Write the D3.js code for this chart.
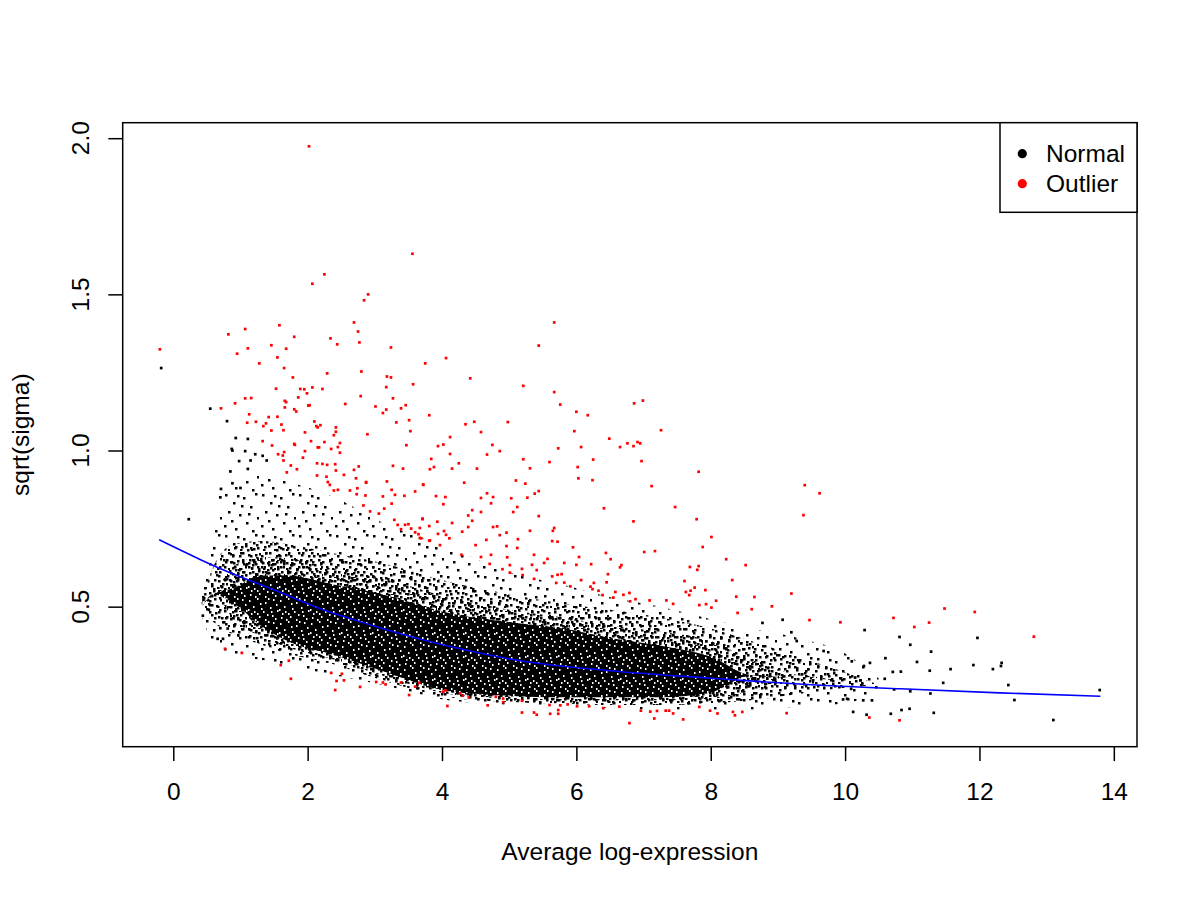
<!DOCTYPE html>
<html><head><meta charset="utf-8">
<script src="https://cdn.jsdelivr.net/npm/d3@7"></script>
<style>
body{margin:0;background:#fff}
svg{display:block}
text{font-family:"Liberation Sans",Arial,Helvetica,sans-serif;fill:#000}
</style>
</head><body>
<svg id="chart" width="1200" height="900"></svg>
<script>
// ---------------- DATA ----------------
const xTicks = [0, 2, 4, 6, 8, 10, 12, 14];
const yTicks = [0.5, 1.0, 1.5, 2.0];
const yTickLabels = ["0.5", "1.0", "1.5", "2.0"];
const legendLabels = ["Normal", "Outlier"];

// density envelope of the dense "Normal" cloud (too many points to list one by one)
const cloudX  = [0.42, 0.6, 0.9, 1.3, 1.7, 2.4, 3.1, 4.1, 5.0, 5.8, 6.5, 7.25, 8.0, 8.6, 9.3, 10.0, 10.5];
const outerHi = [0.53, 0.74, 0.90, 0.92, 0.90, 0.85, 0.77, 0.69, 0.61, 0.57, 0.53, 0.50, 0.46, 0.43, 0.40, 0.35, 0.27];
const outerLo = [0.47, 0.38, 0.34, 0.33, 0.31, 0.28, 0.25, 0.20, 0.185, 0.18, 0.175, 0.17, 0.17, 0.17, 0.18, 0.19, 0.23];
const midHi   = [0.51, 0.63, 0.70, 0.71, 0.70, 0.67, 0.64, 0.58, 0.54, 0.51, 0.49, 0.465, 0.43, 0.39, 0.34, 0.29, 0.25];
const midLo   = [0.49, 0.45, 0.41, 0.38, 0.35, 0.315, 0.265, 0.21, 0.195, 0.19, 0.185, 0.185, 0.19, 0.20, 0.22, 0.24, 0.25];
const denseHi = [0.50, 0.54, 0.63, 0.66, 0.655, 0.62, 0.59, 0.53, 0.49, 0.465, 0.44, 0.42, 0.39, 0.33, 0.28, 0.26, 0.25];
const denseLo = [0.50, 0.54, 0.46, 0.405, 0.37, 0.33, 0.28, 0.22, 0.205, 0.20, 0.20, 0.20, 0.205, 0.23, 0.28, 0.26, 0.25];
const coreHi  = [0.50, 0.54, 0.56, 0.60, 0.60, 0.57, 0.54, 0.48, 0.45, 0.43, 0.40, 0.375, 0.34, 0.28, 0.27, 0.26, 0.25];
const coreLo  = [0.50, 0.54, 0.51, 0.44, 0.39, 0.345, 0.295, 0.23, 0.215, 0.21, 0.21, 0.21, 0.225, 0.28, 0.27, 0.26, 0.25];

// individually visible "Normal" points (fringe)
const normalPts = [
 [-0.18,1.264],[0.55,1.134],[0.80,1.094],[0.93,1.040],[1.11,1.037],[0.88,1.000],[1.07,0.998],[0.23,0.78],
 [0.87,1.005],[0.98,0.966],[1.15,0.968],[1.11,0.941],[1.22,0.988],[1.33,0.983],[1.39,0.968],[0.85,0.933],
 [0.71,0.877],[0.70,0.85],[0.88,0.895],[1.0,0.88],
 [0.45,0.522],[0.44,0.471],[0.53,0.49],[0.66,0.397],[0.74,0.397],[0.70,0.431],[0.81,0.43],
 [9.07,0.458],[8.77,0.448],[9.28,0.39],[9.68,0.358],[10.1,0.325],[9.2,0.418],
 [10.29,0.425],[10.81,0.403],[10.97,0.378],[11.28,0.356],[11.97,0.40],[11.07,0.323],[10.83,0.292],[10.71,0.291],
 [11.26,0.295],[11.57,0.30],[11.91,0.313],[12.20,0.30],[12.33,0.32],[12.32,0.31],[11.46,0.256],[11.27,0.222],
 [12.43,0.249],[12.52,0.201],[13.79,0.233],[13.10,0.137],[11.32,0.16],[10.96,0.173],[10.84,0.169],[10.68,0.157],
 [10.32,0.154],[10.12,0.163],[10.59,0.269],[10.73,0.235],[10.97,0.229],[10.6,0.335],[10.37,0.32],[10.28,0.31],
 [10.15,0.273],[10.23,0.264],[10.4,0.2],[10.27,0.2],[10.09,0.237],[10.03,0.205],[9.97,0.203]
];

// "Outlier" points
const outlierPts = [
 [-0.20,1.324],
 [2.02,1.974],[3.56,1.630],[2.25,1.564],[2.07,1.534],[2.90,1.500],[2.84,1.481],[2.69,1.410],[2.75,1.381],[2.77,1.346],
 [3.24,1.330],[1.58,1.401],[1.07,1.389],[0.82,1.372],[1.80,1.364],[2.34,1.359],[2.44,1.340],[1.46,1.337],[1.11,1.327],
 [1.68,1.326],[0.95,1.310],[1.55,1.298],[1.28,1.279],[1.65,1.264],[2.29,1.247],[2.80,1.253],[1.78,1.234],[3.18,1.237],
 [3.24,1.234],[3.57,1.212],[3.17,1.203],[1.53,1.198],[1.89,1.197],[1.95,1.196],[2.07,1.202],[2.22,1.197],[1.86,1.170],
 [1.99,1.183],[1.07,1.167],[1.16,1.168],[2.79,1.174],[3.27,1.167],[0.92,1.151],[0.71,1.135],[1.66,1.159],[1.68,1.155],
 [1.66,1.138],[1.80,1.132],[1.83,1.125],[2.01,1.144],[2.03,1.145],[2.56,1.149],[3.01,1.141],[3.46,1.145],[3.39,1.135],
 [3.17,1.131],[3.12,1.120],[1.13,1.116],[1.42,1.107],[1.55,1.108],[1.10,1.089],[1.23,1.092],[1.38,1.087],[1.34,1.078],
 [1.61,1.083],[3.32,1.090],[3.51,1.097],[2.10,1.093],[2.13,1.078],[2.19,1.081],[2.15,1.074],[1.46,1.064],[1.64,1.065],
 [1.96,1.058],[2.42,1.074],[2.42,1.060],[2.39,1.049],[3.53,1.062],[2.89,1.052],[1.33,1.030],[1.47,1.016],[1.80,1.021],
 [1.81,1.018],[2.05,1.030],[2.25,1.027],[2.15,1.010],[2.17,1.010],[2.35,1.005],[2.48,1.024],[2.45,1.011],[3.47,1.017],
 [1.65,0.995],[1.96,0.998],[2.48,0.993],
 [5.67,1.410],[5.44,1.336],[4.06,1.296],[3.75,1.279],[4.42,1.231],[5.21,1.207],[5.67,1.187],[5.76,1.147],[6.86,1.151],
 [6.99,1.160],[6.00,1.124],[6.17,1.113],[3.81,1.113],[4.35,1.084],[4.48,1.092],[4.98,1.091],[4.58,1.059],[5.97,1.062],
 [7.26,1.065],[4.12,1.043],[6.49,1.038],[3.94,1.014],[4.02,1.019],[4.75,1.018],[5.73,1.007],[6.07,1.011],[6.65,1.011],
 [6.76,1.023],[6.85,1.014],[6.91,1.027],[6.95,1.023],[4.86,0.998],
 [4.12,0.989],[4.67,0.987],[5.21,0.972],[5.60,0.963],[5.31,0.943],[3.84,0.973],[3.82,0.940],[3.88,0.947],[4.15,0.942],
 [4.25,0.959],[4.52,0.942],[6.25,0.971],[6.97,0.966],[6.02,0.947],[6.03,0.911],[6.24,0.905],[5.10,0.904],[5.24,0.894],
 [4.33,0.897],[3.72,0.891],[7.82,0.932],[7.12,0.886],[3.91,0.854],[4.05,0.851],[4.58,0.848],[4.67,0.863],[4.76,0.851],
 [4.73,0.831],[4.02,0.828],[5.03,0.847],[5.27,0.849],[5.38,0.862],[5.44,0.870],[5.12,0.819],[4.45,0.809],[4.58,0.803],
 [5.06,0.803],[6.41,0.815],[7.47,0.819],[3.71,0.782],[4.39,0.792],[4.45,0.775],[5.44,0.790],[6.85,0.773],[7.79,0.780],
 [3.93,0.772],[4.15,0.768],[3.81,0.758],[4.03,0.742],[4.06,0.730],[4.11,0.719],[4.30,0.740],[4.39,0.755],[4.76,0.755],
 [4.82,0.757],[4.96,0.737],[4.86,0.729],[5.31,0.743],[5.67,0.752],[5.65,0.743],[3.67,0.720],[3.82,0.712],[5.13,0.716],
 [4.66,0.714],[5.64,0.710],[5.72,0.708],[8.01,0.723],[4.50,0.697],[4.96,0.694],[5.12,0.688],[5.95,0.690],[7.01,0.675],
 [7.17,0.678],[7.88,0.691],[4.29,0.666],[4.58,0.659],[4.73,0.666],[4.97,0.658],[5.37,0.666],[5.57,0.653],[6.04,0.659],
 [6.44,0.672],[6.51,0.652],[4.71,0.637],[5.01,0.633],[5.19,0.621],[5.34,0.634],[5.52,0.640],[5.82,0.640],[6.00,0.634],
 [6.22,0.636],[6.67,0.633],[6.65,0.626],[7.69,0.627],[7.82,0.630],[7.80,0.618],[4.90,0.620],[5.01,0.609],[5.41,0.617],
 [5.20,0.601],[5.37,0.589],[5.64,0.597],[5.72,0.602],[5.78,0.604],[5.70,0.576],[5.82,0.577],[5.91,0.565],[6.07,0.585],
 [6.21,0.564],[6.24,0.556],[6.26,0.576],[6.33,0.551],[6.39,0.537],[6.47,0.604],[6.58,0.547],[6.70,0.538],[6.79,0.544],
 [6.88,0.524],[7.09,0.520],[7.34,0.520],[7.44,0.509],[7.61,0.582],[7.63,0.547],[7.70,0.551],[7.76,0.561],[7.68,0.537],
 [7.92,0.553],[7.83,0.505],[7.93,0.508],[8.08,0.519],[8.01,0.497],[6.45,0.578],[6.55,0.529],[6.80,0.517],
 [4.02,0.228],[4.05,0.232],[4.27,0.222],[4.31,0.215],[4.40,0.209],[4.80,0.212],[4.91,0.194],[4.91,0.206],[4.08,0.182],
 [4.68,0.184],[5.19,0.199],[5.19,0.161],[5.37,0.161],[5.41,0.154],[5.60,0.185],[5.61,0.157],[5.73,0.157],[5.73,0.169],
 [5.76,0.184],[5.87,0.187],[6.01,0.181],[6.19,0.181],[6.40,0.175],[6.64,0.180],[6.79,0.127],[6.96,0.167],[7.10,0.164],
 [7.16,0.142],[7.33,0.167],[7.38,0.167],[7.44,0.158],[7.59,0.139],[7.83,0.179],[7.99,0.167],[8.10,0.158],[7.20,0.166],
 [0.77,0.365],[1.02,0.352],[1.72,0.327],[1.60,0.313],[1.75,0.269],[2.35,0.288],[2.51,0.285],[2.43,0.262],[2.54,0.264],
 [2.41,0.233],[2.78,0.243],[3.02,0.259],[3.12,0.257],[3.16,0.251],[3.39,0.257],[3.51,0.217],[3.66,0.256],[3.60,0.244],
 [2.33,0.890],[2.39,0.872],[2.63,0.872],[2.74,0.879],[2.87,0.897],[2.73,0.860],[2.86,0.856],[3.12,0.853],[3.18,0.901],
 [3.25,0.874],[3.30,0.858],[3.60,0.869],[3.72,0.890],[2.83,0.824],[2.93,0.805],[3.06,0.798],[3.14,0.814],[3.25,0.830],
 [3.44,0.855],[3.29,0.778],[3.34,0.762],[3.39,0.748],[3.45,0.762],[3.50,0.764],[3.54,0.750],[3.60,0.738],[3.67,0.752],
 [3.71,0.780],[3.65,0.732],[3.69,0.719],[3.81,0.711],[3.94,0.733],[3.97,0.697],
 [1.56,0.988],[1.63,0.984],[1.93,0.977],[2.14,0.959],[2.22,0.957],[2.29,0.954],[2.41,0.956],[1.64,0.968],[1.84,0.940],
 [1.75,0.952],[1.69,0.930],[2.14,0.920],[2.28,0.916],[2.42,0.936],[2.54,0.922],[2.69,0.938],[2.72,0.911],[2.76,0.949],
 [2.87,0.899],[3.27,0.951],[3.42,0.942],[2.30,0.899],[2.45,0.874],
 [9.40,0.889],[9.62,0.863],[9.38,0.793],[8.23,0.652],[8.52,0.633],[8.32,0.585],[8.38,0.532],[8.65,0.531],[8.40,0.480],
 [8.61,0.492],[8.91,0.501],[9.20,0.542],[9.47,0.457],[9.93,0.450],[10.72,0.464],[11.03,0.435],[11.25,0.449],[11.48,0.494],
 [11.93,0.483],[12.81,0.404],[8.33,0.163],[8.36,0.152],[8.47,0.163],[9.13,0.159],[10.36,0.145],[10.81,0.136]
];

// fitted trend (blue line)
const trendX = [-0.21, 0.39, 0.74, 1.5, 2.23, 2.78, 3.7, 4.27, 5.16, 6.5, 8.0, 8.74, 9.5, 10.82, 12.3, 13.8];
const trendY = [0.714, 0.652, 0.618, 0.554, 0.49, 0.452, 0.395, 0.365, 0.327, 0.295, 0.271, 0.26, 0.25, 0.237, 0.224, 0.213];

// ---------------- STYLE / LAYOUT ----------------
const W = 1200, H = 900;
const plot = {left: 122.7, right: 1137, top: 122.7, bottom: 746.7};
const FONT = 24.5;
const DOT = 2.7;      // individual points
const TDOT = 2.5;     // speckles of the density texture
// speckle textures used to render the density envelope of the cloud (style only)
const texA = {w: 37, h: 41, dots: [[3,2],[21,5],[33,1],[11,10],[28,14],[6,19],[17,22],[35,25],[24,30],[2,33],[13,36],[30,38],[19,13],[9,28],[26,21],[15,3]]};
const texB = {w: 29, h: 31, dots: [[1,4],[10,1],[22,3],[6,11],[16,8],[26,12],[3,19],[13,16],[21,21],[8,25],[18,28],[27,26],[11,5],[24,17],[0,28],[15,22],[5,14],[20,1]]};
const texC = {w: 23, h: 19, dots: [[2,3],[12,1],[19,8],[7,9],[15,13],[4,15],[21,17],[10,17],[0,10]]};
const texD = {w: 19, h: 17, dots: [[1,1],[8,2],[14,0],[4,6],[11,7],[17,5],[2,11],[9,12],[15,10],[6,15],[13,14],[18,13],[5,3],[11,16]]};
const texW = {w: 31, h: 23, dots: [[1,2],[9,0],[17,4],[25,1],[5,8],[13,10],[22,9],[29,12],[3,15],[11,18],[19,16],[27,20],[7,21],[15,13],[24,17],[0,11],[20,0],[12,5],[28,6],[6,13],[17,21],[23,13],[9,15],[2,19]]};

const svg = d3.select("#chart");
svg.append("rect").attr("width", W).attr("height", H).attr("fill", "#fff");

const x = d3.scaleLinear().domain([-0.753, 14.345]).range([plot.left, plot.right]);
const y = d3.scaleLinear().domain([0.0516, 2.0496]).range([plot.bottom, plot.top]);

const defs = svg.append("defs");
defs.append("clipPath").attr("id", "clip").append("rect")
  .attr("x", plot.left).attr("y", plot.top)
  .attr("width", plot.right - plot.left).attr("height", plot.bottom - plot.top);

function makePattern(id, tex, bg, fg, dw, dh) {
  const p = defs.append("pattern").attr("id", id).attr("patternUnits", "userSpaceOnUse")
    .attr("width", tex.w).attr("height", tex.h);
  if (bg) p.append("rect").attr("width", tex.w).attr("height", tex.h).attr("fill", bg);
  p.selectAll("rect.d").data(tex.dots).join("rect").attr("class", "d")
    .attr("x", d => d[0]).attr("y", d => d[1]).attr("width", dw).attr("height", dh).attr("fill", fg);
}
makePattern("pA", texA, null, "#000", TDOT, TDOT);
makePattern("pB", texB, null, "#000", TDOT, TDOT);
makePattern("pC", texC, null, "#000", TDOT, TDOT);
makePattern("pD", texD, null, "#000", TDOT, TDOT);
makePattern("pW", texW, "#000", "#fff", 1.5, 2);

const g = svg.append("g").attr("clip-path", "url(#clip)");

function band(hi, lo) {
  return d3.area()
    .x((d, i) => x(cloudX[i]))
    .y0((d, i) => y(lo[i]))
    .y1((d, i) => y(hi[i]))
    .curve(d3.curveMonotoneX)(cloudX);
}
g.append("path").attr("d", band(outerHi, outerLo)).attr("fill", "url(#pA)");
g.append("path").attr("d", band(midHi, midLo)).attr("fill", "url(#pB)");
g.append("path").attr("d", band(midHi, midLo)).attr("fill", "url(#pC)");
g.append("path").attr("d", band(denseHi, denseLo)).attr("fill", "url(#pD)");
g.append("path").attr("d", band(coreHi, coreLo)).attr("fill", "url(#pW)");

g.append("g").selectAll("rect").data(normalPts).join("rect")
  .attr("x", d => x(d[0]) - DOT / 2).attr("y", d => y(d[1]) - DOT / 2)
  .attr("width", DOT).attr("height", DOT).attr("fill", "#000");

g.append("g").selectAll("rect").data(outlierPts).join("rect")
  .attr("x", d => x(d[0]) - DOT / 2).attr("y", d => y(d[1]) - DOT / 2)
  .attr("width", DOT).attr("height", DOT).attr("fill", "#ff0000");

g.append("path")
  .attr("d", d3.line().x((d, i) => x(trendX[i])).y((d, i) => y(trendY[i])).curve(d3.curveMonotoneX)(trendX))
  .attr("fill", "none").attr("stroke", "#0000ff").attr("stroke-width", 1.6);

// axes
const xAxis = svg.append("g").attr("transform", `translate(0,${plot.bottom})`)
  .call(d3.axisBottom(x).tickValues(xTicks).tickSize(14.4).tickFormat(d3.format("d")));
xAxis.select(".domain").remove();
xAxis.selectAll("line").attr("stroke", "#000").attr("stroke-width", 1.5);
xAxis.selectAll("text").attr("y", 53.5).attr("dy", null)
  .style("font-size", FONT + "px").style("font-family", '"Liberation Sans",Arial,sans-serif').attr("fill", "#000");

const yAxis = svg.append("g").attr("transform", `translate(${plot.left},0)`)
  .call(d3.axisLeft(y).tickValues(yTicks).tickSize(14.4).tickFormat(""));
yAxis.select(".domain").remove();
yAxis.selectAll("line").attr("stroke", "#000").attr("stroke-width", 1.5);
svg.append("g").selectAll("text").data(yTicks).join("text")
  .attr("transform", (d) => `translate(88.5,${y(d)}) rotate(-90)`)
  .attr("text-anchor", "middle").style("font-size", FONT + "px")
  .text((d, i) => yTickLabels[i]);

// box
svg.append("rect").attr("x", plot.left).attr("y", plot.top)
  .attr("width", plot.right - plot.left).attr("height", plot.bottom - plot.top)
  .attr("fill", "none").attr("stroke", "#000").attr("stroke-width", 1.5);

// titles
svg.append("text").attr("x", (plot.left + plot.right) / 2).attr("y", 860)
  .attr("text-anchor", "middle").style("font-size", FONT + "px").text("Average log-expression");
svg.append("text").attr("transform", `translate(28.5,${(plot.top + plot.bottom) / 2}) rotate(-90)`)
  .attr("text-anchor", "middle").style("font-size", FONT + "px").text("sqrt(sigma)");

// legend
const lg = svg.append("g");
lg.append("rect").attr("x", 1000).attr("y", plot.top).attr("width", plot.right - 1000).attr("height", 89.6)
  .attr("fill", "#fff").attr("stroke", "#000").attr("stroke-width", 1.5);
const legendColors = ["#000", "#ff0000"];
legendLabels.forEach((lab, i) => {
  lg.append("circle").attr("cx", 1022.3).attr("cy", 153.7 + 30 * i).attr("r", 4.6).attr("fill", legendColors[i]);
  lg.append("text").attr("x", 1046).attr("y", 161.5 + 30 * i).style("font-size", FONT + "px").text(lab);
});
</script>
</body></html>
